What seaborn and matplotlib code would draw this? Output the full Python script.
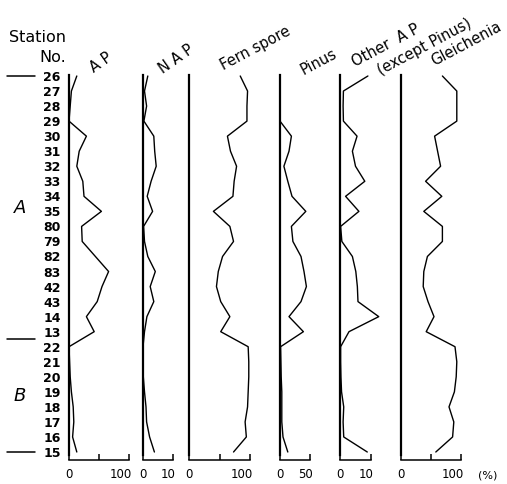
import numpy as np
import pandas as pd
import matplotlib
matplotlib.use("Agg")
import matplotlib.pyplot as plt
import matplotlib.transforms as mtransforms
import seaborn as sns

# ---------------- data ----------------
stations = ['26', '27', '28', '29', '30', '31', '32', '33', '34', '35', '80', '79', '82',
            '83', '42', '43', '14', '13', '22', '21', '20', '19', '18', '17', '16', '15']
ap = [13, 4, 2, 0, 29, 17, 13, 23, 25, 54, 21, 22, 44, 66, 55, 47, 29, 42, 0, 1, 2, 4, 7, 8, 6, 13]
nap = [1.6, 0.5, 1.2, 0.3, 3.6, 3.9, 4.4, 2.7, 1.4, 3.2, 0.2, 0.5, 1.6, 4.1, 2.4, 3.6, 1.3, 0.5,
       0.0, 0.0, 0.1, 0.5, 1.0, 1.2, 2.2, 3.8]
fern = [84, 96, 95, 95, 63, 68, 78, 74, 72, 40, 67, 73, 55, 48, 45, 52, 67, 52,
        97, 98, 98, 97, 96, 92, 94, 73]
pinus = [0, 0, 0, 0, 19, 15, 6.5, 13, 20, 43, 19, 21.5, 35, 40, 44, 35, 15, 39,
         1, 1.5, 2, 3, 3, 3, 5, 13]
other_ap = [9, 1.1, 1.0, 1.1, 5.5, 4.0, 5.0, 8.0, 1.8, 6.1, 0.2, 0.6, 4.0, 5.1, 5.6, 5.8, 12.5, 2.9,
            0.2, 0.2, 0.3, 0.5, 1.2, 1.0, 1.2, 8.8]
gleichenia = [69, 93, 93, 93, 56, 61, 66, 41, 68, 38, 69, 69, 44, 38, 37, 45, 55, 42,
              90, 93, 92, 89, 80, 88, 86, 58]
zone_names = ['A', 'B']
zone_bounds = [0, 17.5, 25]

titles = ['A P', 'N A P', 'Fern spore', 'Pinus', 'Other A P', 'Gleichenia']
scale_max = [100, 10, 100, 50, 10, 100]
scale_mid = [50, None, 50, None, None, 50]

rows = np.arange(len(stations))
df = pd.DataFrame({'row': rows, 'AP': ap, 'NAP': nap, 'Fern': fern, 'Pinus': pinus,
                   'Other': other_ap, 'Gleichenia': gleichenia})
cols = ['AP', 'NAP', 'Fern', 'Pinus', 'Other', 'Gleichenia']

# ---------------- layout ----------------
sns.set_style('white')
plt.rcParams['font.family'] = ['DejaVu Sans']
for key in ['text.color', 'xtick.color', 'ytick.color', 'axes.labelcolor']:
    plt.rcParams[key] = 'black'
W, H = 507, 484
fig = plt.figure(figsize=(W / 100, H / 100), dpi=100)

row_y0, row_dy = 76.0, 15.04
ax_top, ax_bot = 70.0, 460.0
ylim_top = (ax_top - row_y0) / row_dy
ylim_bot = (ax_bot - row_y0) / row_dy

panel_x = [(69, 129), (143, 173), (189, 250), (280, 310), (340, 371), (401, 461)]

axes = []
for i, col in enumerate(cols):
    x0, x1 = panel_x[i]
    ax = fig.add_axes([x0 / W, 1 - ax_bot / H, (x1 - x0) / W, (ax_bot - ax_top) / H])
    ax.patch.set_alpha(0)
    sns.lineplot(data=df, x=col, y='row', orient='y', sort=False, estimator=None,
                 color='black', linewidth=1.0, ax=ax)
    for ln in ax.lines:
        ln.set_clip_on(False)
    ax.set_xlim(0, scale_max[i])
    ax.set_ylim(ylim_bot, ylim_top)
    ax.set_xlabel('')
    ax.set_ylabel('')
    for s in ['top', 'right']:
        ax.spines[s].set_visible(False)
    ax.spines['left'].set_bounds(-0.07, 25.2)
    ax.spines['left'].set_linewidth(1.6)
    ax.spines['left'].set_color('black')
    ax.spines['bottom'].set_bounds(0, scale_max[i])
    ax.spines['bottom'].set_linewidth(1.1)
    ax.spines['bottom'].set_color('black')
    ticks = [0] + ([scale_mid[i]] if scale_mid[i] else []) + [scale_max[i]]
    labels = ['0'] + ([''] if scale_mid[i] else []) + [str(scale_max[i])]
    ax.set_xticks(ticks)
    ax.set_xticklabels(labels, fontsize=8.5)
    ax.tick_params(axis='x', direction='in', length=4, width=1.1, color='black', pad=5.5,
                   bottom=True)
    lbls = ax.get_xticklabels()
    lbls[-1].set_horizontalalignment('right')
    lbls[-1].set_transform(lbls[-1].get_transform() +
                           mtransforms.ScaledTranslation(3 / 100, 0, fig.dpi_scale_trans))
    if i == 0:
        ax.set_yticks(rows)
        ax.set_yticklabels(stations, fontsize=9, fontweight='bold')
        ax.tick_params(axis='y', length=0, pad=6)
    else:
        ax.set_yticks([])
    axes.append(ax)

# zone boundaries and labels
ax0 = axes[0]
trans = mtransforms.blended_transform_factory(fig.transFigure, ax0.transData)
for b in zone_bounds:
    ax0.plot([7 / W, 35 / W], [b, b], transform=trans, color='black', lw=1.1, clip_on=False)
for k, name in enumerate(zone_names):
    mid = (zone_bounds[k] + zone_bounds[k + 1]) / 2
    ax0.text(20 / W, mid, name, transform=trans, fontsize=13, fontstyle='italic',
             ha='center', va='center')

# header texts
fig.text(37 / W, 1 - 37 / H, 'Station', fontsize=11.5, ha='center', va='center')
fig.text(53 / W, 1 - 58 / H, 'No.', fontsize=11.5, ha='center', va='center')

def head(x, y, s, rot=30, fs=10.5):
    fig.text(x / W, 1 - y / H, s, fontsize=fs, rotation=rot, rotation_mode='anchor',
             ha='center', va='center')

head(101, 63, 'A P', rot=35)
head(176, 59, 'N A P', rot=35)
head(255, 48, 'Fern spore', rot=28)
head(319, 62, 'Pinus', rot=28)
head(386, 46, 'Other  A P', rot=28)
head(424, 47, '(except Pinus)', rot=28)
head(466, 44, 'Gleichenia', rot=28)
fig.text(488 / W, 1 - 475 / H, '(%)', fontsize=8, ha='center', va='center')

fig.savefig('out.png', dpi=100)
